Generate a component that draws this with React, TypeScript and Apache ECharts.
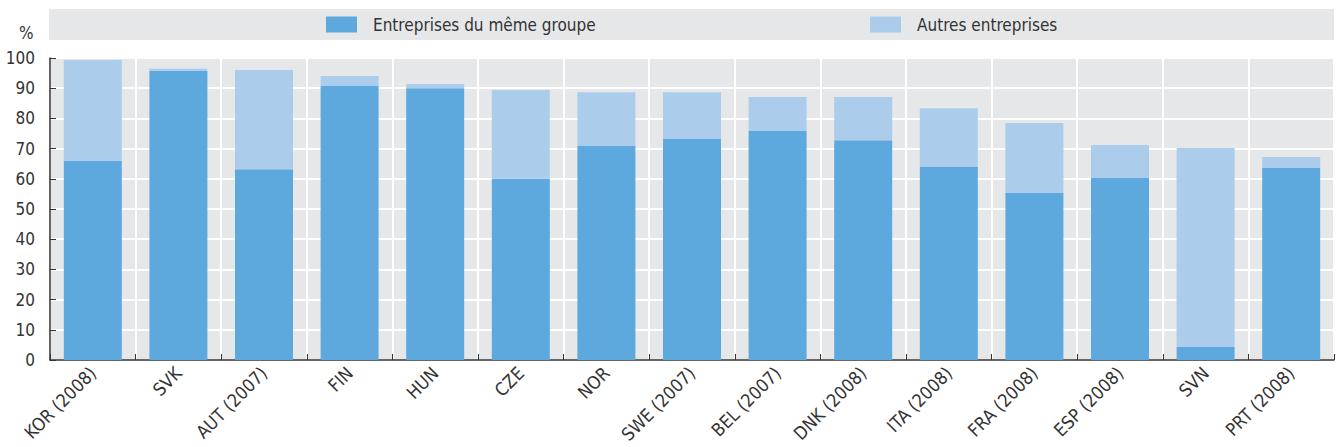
import React, { useEffect, useRef } from "react";
import * as echarts from "echarts";

const categories = [
  "KOR (2008)", "SVK", "AUT (2007)", "FIN", "HUN", "CZE", "NOR", "SWE (2007)",
  "BEL (2007)", "DNK (2008)", "ITA (2008)", "FRA (2008)", "ESP (2008)", "SVN", "PRT (2008)",
];
const sameGroup = [65.9, 95.7, 63.2, 90.7, 90.0, 60.0, 70.9, 73.2, 75.8, 72.8, 63.9, 55.3, 60.3, 4.3, 63.6];
const otherFirms = [33.4, 0.7, 32.8, 3.3, 1.4, 29.4, 17.8, 15.5, 11.3, 14.3, 19.5, 23.2, 10.9, 65.9, 3.6];
const seriesNames = ["Entreprises du même groupe", "Autres entreprises"];
const yTicks = { min: 0, max: 100, interval: 10 };

const FONT = "'Liberation Sans Narrow', 'DejaVu Sans Condensed', 'Arial Narrow', sans-serif";
const TXT = "#333333";
const BG = "#e6e7e9";

export default function App() {
  const ref = useRef<HTMLDivElement>(null);
  useEffect(() => {
    if (!ref.current) return;
    const chart = echarts.init(ref.current, null, { renderer: "svg" });
    chart.setOption({
      animation: false,
      textStyle: { fontFamily: FONT, color: TXT },
      graphic: [
        { type: "rect", silent: true, z: -10, shape: { x: 49, y: 9, width: 1285, height: 31 }, style: { fill: BG } },
        { type: "text", x: 19, y: 24, style: { text: "%", fontFamily: FONT, fontSize: 17, fill: TXT } },
      ],
      legend: [
        {
          left: 321, top: 11, itemWidth: 31, itemHeight: 16, icon: "rect",
          data: [seriesNames[0]],
          textStyle: { fontFamily: FONT, fontSize: 17, color: TXT, padding: [0, 0, 0, 11] },
        },
        {
          left: 865, top: 11, itemWidth: 31, itemHeight: 16, icon: "rect",
          data: [seriesNames[1]],
          textStyle: { fontFamily: FONT, fontSize: 17, color: TXT, padding: [0, 0, 0, 11] },
        },
      ],
      grid: {
        left: 50, right: 3, top: 58, bottom: 87, show: true,
        backgroundColor: BG, borderWidth: 0, containLabel: false,
      },
      xAxis: {
        type: "category",
        data: categories,
        axisLine: { show: true, lineStyle: { color: "#333", width: 1.5 } },
        axisTick: { show: true, inside: true, length: 6, lineStyle: { color: "#333" } },
        splitLine: { show: true, lineStyle: { color: "#ffffff", width: 2 } },
        axisLabel: { interval: 0, rotate: 45, fontSize: 18, color: TXT, fontFamily: FONT, margin: 10 },
      },
      yAxis: {
        type: "value",
        min: yTicks.min, max: yTicks.max, interval: yTicks.interval,
        axisLine: { show: true, lineStyle: { color: "#333", width: 1.5 } },
        axisTick: { show: true, inside: true, length: 6, lineStyle: { color: "#333" } },
        splitLine: { show: true, lineStyle: { color: "#ffffff", width: 2 } },
        axisLabel: { fontSize: 17, color: TXT, fontFamily: FONT, margin: 15 },
      },
      series: [
        {
          name: seriesNames[0], type: "bar", stack: "t", data: sameGroup,
          barWidth: 58, itemStyle: { color: "#5da9dd" },
        },
        {
          name: seriesNames[1], type: "bar", stack: "t", data: otherFirms,
          barWidth: 58, itemStyle: { color: "#abcdeb" },
        },
      ],
    });
    return () => chart.dispose();
  }, []);
  return <div ref={ref} style={{ width: 1337, height: 447, position: "absolute", left: 0, top: 0 }} />;
}
